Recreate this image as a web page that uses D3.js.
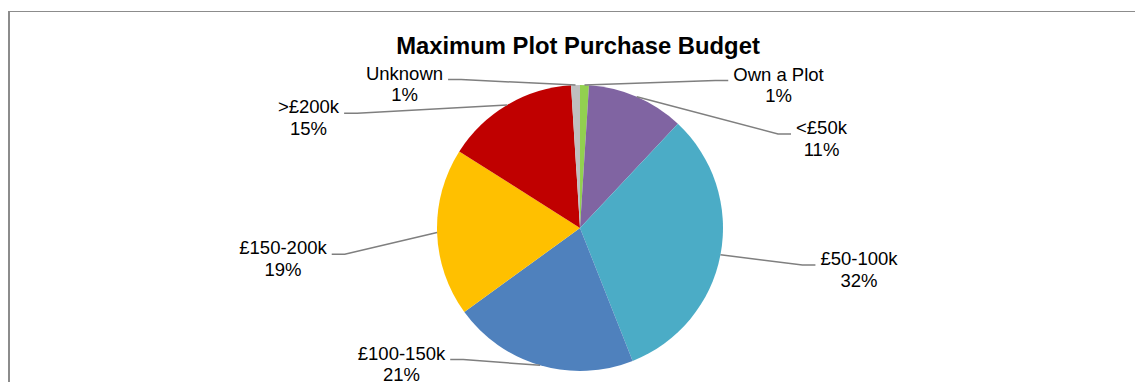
<!DOCTYPE html>
<html>
<head>
<meta charset="utf-8">
<script src="https://cdn.jsdelivr.net/npm/d3@7"></script>
<style>
  html, body { margin: 0; padding: 0; background: #fff; overflow: hidden; }
  svg { display: block; }
  text { font-family: "Liberation Sans", Arial, sans-serif; fill: #000; }
</style>
</head>
<body>
<svg id="chart" width="1135" height="382"></svg>
<script>
// Budget bands and their share of respondents (percent)
const categories = ["Own a Plot", "<£50k", "£50-100k", "£100-150k", "£150-200k", ">£200k", "Unknown"];
const shares = [1, 11, 32, 21, 19, 15, 1];
const colours = ["#92D050", "#8064A2", "#4BACC6", "#4F81BD", "#FFC000", "#C00000", "#BFBFBF"];

// Label placement: text centre x, first-line baseline y, and which side of the pie
const labelX = [778.5, 821.5, 859, 401.5, 283, 308.5, 404.5];
const labelY = [80.5, 134, 265, 359.5, 254.3, 113.3, 79.5];
const labelSide = ["right", "right", "right", "left", "left", "left", "left"];

const W = 1135, H = 382;
const cx = 580, cy = 228, R = 143;
const fontSize = 18.5, lineGap = 21.5, elbow = 13;

const svg = d3.select("#chart");

// Chart-area frame: top and left edges (the rest runs off the page)
svg.append("line")
  .attr("x1", 8).attr("x2", W).attr("y1", 11.5).attr("y2", 11.5)
  .attr("stroke", "#8c8c8c").attr("stroke-width", 1.2);
svg.append("line")
  .attr("x1", 9).attr("x2", 9).attr("y1", 11).attr("y2", H)
  .attr("stroke", "#8c8c8c").attr("stroke-width", 2);

// Title
svg.append("text")
  .attr("x", 578).attr("y", 54.3)
  .attr("text-anchor", "middle")
  .style("font-size", "23.8px").style("font-weight", "bold")
  .text("Maximum Plot Purchase Budget");

const data = categories.map((c, i) => ({ name: c, value: shares[i], colour: colours[i], i }));

const pie = d3.pie().value(d => d.value).sort(null).startAngle(0).endAngle(2 * Math.PI);
const arc = d3.arc().innerRadius(0).outerRadius(R);
const arcs = pie(data);

const g = svg.append("g").attr("transform", `translate(${cx},${cy})`);
g.selectAll("path.slice")
  .data(arcs)
  .join("path")
  .attr("class", "slice")
  .attr("d", arc)
  .attr("fill", d => d.data.colour);

// Leader lines: from the slice's outer edge to an elbow, then a short horizontal run to the label
const measure = svg.append("text").style("font-size", fontSize + "px").attr("visibility", "hidden");
const textWidth = s => { measure.text(s); return measure.node().getComputedTextLength(); };

const leaders = arcs.map(a => {
  const i = a.data.i;
  const mid = (a.startAngle + a.endAngle) / 2;
  const sx = cx + R * Math.sin(mid), sy = cy - R * Math.cos(mid);
  const w = textWidth(a.data.name);
  const ay = labelY[i];
  let ax, ex;
  if (labelSide[i] === "right") { ax = labelX[i] - w / 2 - 5; ex = ax - elbow; }
  else { ax = labelX[i] + w / 2 + 5; ex = ax + elbow; }
  return [[sx, sy], [ex, ay], [ax, ay]];
});
measure.remove();

svg.selectAll("path.leader")
  .data(leaders)
  .join("path")
  .attr("class", "leader")
  .attr("d", d3.line())
  .attr("fill", "none")
  .attr("stroke", "#7f7f7f")
  .attr("stroke-width", 1.5);

// Two-line labels: category, then percentage
const labels = svg.selectAll("g.label")
  .data(data)
  .join("g")
  .attr("class", "label");
labels.append("text")
  .attr("x", d => labelX[d.i]).attr("y", d => labelY[d.i])
  .attr("text-anchor", "middle")
  .style("font-size", fontSize + "px")
  .text(d => d.name);
labels.append("text")
  .attr("x", d => labelX[d.i]).attr("y", d => labelY[d.i] + lineGap)
  .attr("text-anchor", "middle")
  .style("font-size", fontSize + "px")
  .text(d => d.value + "%");
</script>
</body>
</html>
